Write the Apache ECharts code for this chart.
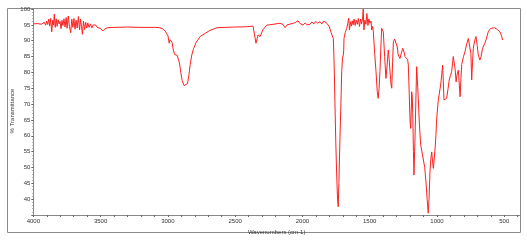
<!DOCTYPE html>
<html><head><meta charset="utf-8">
<script src="https://cdn.jsdelivr.net/npm/echarts@6/dist/echarts.min.js"></script>
<style>html,body{margin:0;padding:0;background:#fff}#c{width:527px;height:242px}</style>
</head><body><div id="c"></div>
<script>
const wavenumbers = [4000,3970,3940,3928,3918,3908,3901,3893,3885,3878,3871,3863,3855,3849,3844,3837,3830,3823,3815,3808,3801,3794,3787,3780,3772,3764,3756,3749,3740,3732,3722,3714,3706,3698,3690,3682,3674,3665,3656,3649,3642,3635,3627,3619,3611,3603,3595,3585,3575,3565,3555,3545,3535,3525,3515,3504,3490,3481,3466,3446,3400,3300,3200,3100,3060,
3037,3019,3007,2999,2990,2984,2979,2969,2959,2949,2939,2931,2925,2914,2904,2894,2879,2865,2854,2844,2834,2822,2809,2789,2760,2723,2689,2635,2512,2414,2367,2357,2345,2330,2315,2293,2265,2213,2167,2144,2129,2114,2069,2054,2033,2020,2010,1996,1980,1965,1943,1930,1915,1901,1886,1869,1856,1842,1831,1819,1811,1801,1795,1786,1778,1770,1764,1758,1752,1746,1739,1734,1729,1721,1714,1708,1702,1696,1693,1691,1682,1671,
1663,1656,1650,1643,1636,1630,1623,1616,1608,1600,1592,1584,1576,1568,1560,1553,1548,1543,1536,1528,1521,1513,1506,1498,1490,1485,1478,1473,1463,1453,1444,1437,1430,1424,1417,1411,1405,1399,1389,1379,1371,1362,1355,1349,1341,1336,1330,1324,1314,1305,1295,1288,1275,1265,1255,1245,1238,1232,1225,1218,1213,1206,1200,1195,1191,1188,1184,1180,1175,1171,1164,1156,1151,1145,1139,1131,1121,1114,1102,1091,1082,1073,1065,1059,1052,1045,1039,1033,1027,1020,1014,1008,1002,990,973,964,958,953,948,938,928,919,909,900,891,884,879,871,865,858,850,841,834,828,822,816,803,792,779,767,758,755,748,742,736,730,720,710,701,693,681,672,661,652,644,634,619,604,593,574,557,532,520,512];
const transmittance = [95.3,95.4,95.2,95.3,95.8,94.9,96.2,95.1,96.8,94.6,97.0,92.8,96.5,95.0,98.4,94.2,96.9,94.5,96.6,95.3,96.1,93.8,96.4,94.8,96.9,94.3,97.3,93.9,97.8,94.6,92.5,96.8,94.2,97.0,93.6,96.5,94.0,97.6,93.4,96.8,94.5,92.0,96.2,93.5,95.8,94.0,95.6,94.2,95.3,94.0,95.0,94.4,94.9,94.2,94.6,93.9,93.3,93.1,93.8,94.1,94.2,94.3,94.2,94.2,94.1,
93.7,93.0,92.8,91.5,89.2,90.3,90.7,89.5,87,85.6,85.0,85.4,85.5,83,80,77.5,75.8,75.2,76.5,79,82.5,85.5,87.5,89.5,91.3,92.3,93.2,94.1,94.3,94.4,94.6,94.0,89.2,91.8,91.3,93.5,94.9,95.2,95.5,95.1,94.1,95,95.5,95.7,96.3,95.5,95.8,94.9,95.6,95.0,95.2,95.9,95.3,96.1,95.5,96.0,95.3,96.2,95.6,95.5,95.0,94.5,93.9,92.5,91.5,90.7,82,69.7,58,48.6,40,37.6,45,59.3,70,80.2,84.5,85.5,87,90.7,92.5,93.9,
95.5,97.1,93.4,96.0,94.6,96.3,95.0,96.8,94.8,96.5,95.2,97.0,94.5,96.8,95.3,97.2,100,93.4,96.5,95.2,98.6,94.8,96.9,95.5,96.2,93.4,94.5,92.8,86,80.2,74,71.8,75,80.2,88,93.9,93.5,92.8,85,78.1,82,87.1,84,80.2,76,75,83,89.7,90.5,90.7,88,85.5,84.4,86,87.6,86.5,85,85.6,85.5,84,82.3,73,64.4,62.3,68,73.9,72.5,67,55,47.6,58,72.8,81.8,77,71.8,64,57,55.5,54.9,50,45.5,40,35.6,40,48.6,53,54.9,52,49.7,53,56,60,65.5,71.3,76,79.5,82.3,77,71.3,71.5,71.8,74.5,77.6,79,80.2,83,85,85.5,81,77,79.5,80.7,76,72.3,78,82.5,85,86.5,89,90.7,90.2,90.5,86,77.6,83,87.6,90,91.3,88.5,85.5,83.9,85,87.6,88,89.2,90.5,92.8,93.8,94.4,94.1,93.7,92.8,91.5,90.2];
const xLabelValues = [4000,3500,3000,2500,2000,1500,1000,500];
const xTickValues = [4000,3900,3800,3700,3600,3500,3400,3300,3200,3100,3000,2900,2800,2700,2600,2500,2400,2300,2200,2100,2000,1900,1800,1700,1600,1500,1400,1300,1200,1100,1000,900,800,700,600,500,400];
const xTitle = 'Wavenumbers (cm-1)';
const yTitle = '% Transmittance';

const data = wavenumbers.map((w, i) => [w, transmittance[i]]);
const chart = echarts.init(document.getElementById('c'), null, {renderer: 'canvas'});
const lab = {fontSize: 6, color: '#333', fontFamily: 'Liberation Sans, Arial, sans-serif'};
chart.setOption({
  animation: false,
  graphic: [{type: 'rect', shape: {x: 7.5, y: 8.5, width: 513, height: 224}, style: {fill: 'none', stroke: '#8c8c8c', lineWidth: 1}, z: 0},
            {type: 'text', x: 12, y: 111, rotation: Math.PI/2, style: {text: yTitle, fontSize: 6, fill: '#333', align: 'center', verticalAlign: 'middle', fontFamily: 'Liberation Sans, Arial, sans-serif'}}],
  grid: {left: 33.3, right: 7, top: 9, bottom: 27, containLabel: false},
  xAxis: {type: 'value', inverse: true, min: 383, max: 4000,
    name: xTitle, nameLocation: 'middle', nameGap: 11, nameTextStyle: lab,
    axisLine: {lineStyle: {color: '#888', width: 1}},
    axisTick: {customValues: xTickValues, length: 2, lineStyle: {color: '#666'}},
    axisLabel: Object.assign({customValues: xLabelValues, margin: 3, formatter: v => String(v)}, lab),
    splitLine: {show: false}},
  yAxis: {type: 'value', min: 35, max: 100, interval: 5,
    axisLine: {show: true, lineStyle: {color: '#888', width: 1}},
    axisTick: {show: true, length: 2, lineStyle: {color: '#666'}},
    minorTick: {show: true, splitNumber: 5, length: 1, lineStyle: {color: '#999'}},
    axisLabel: Object.assign({showMinLabel: false, margin: 3, formatter: v => String(v)}, lab),
    splitLine: {show: false}},
  series: [{type: 'line', data: data, showSymbol: false, symbol: 'none',
    lineStyle: {color: '#ff2020', width: 1}, itemStyle: {color: '#ff2020'}}]
});
</script></body></html>
